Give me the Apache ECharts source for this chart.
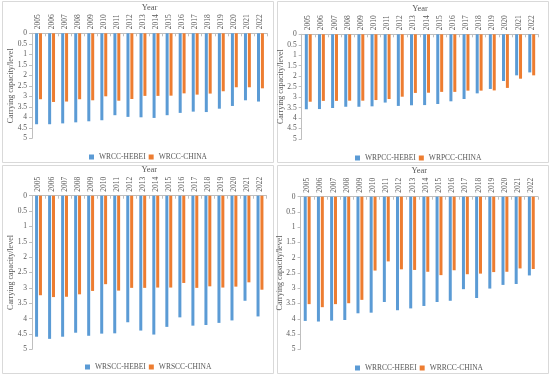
<!DOCTYPE html>
<html><head><meta charset="utf-8">
<script src="https://cdn.jsdelivr.net/npm/echarts@6/dist/echarts.min.js"></script>
<style>html,body{margin:0;padding:0;background:#fff}#c{width:550px;height:378px}</style>
</head><body><div id="c"></div>
<script>
var years = ['2005','2006','2007','2008','2009','2010','2011','2012','2013','2014','2015','2016','2017','2018','2019','2020','2021','2022'];
var yTicks = [0,0.5,1,1.5,2,2.5,3,3.5,4,4.5,5];
var wrccHebei = [4.33,4.33,4.29,4.24,4.19,4.14,3.90,3.98,4.00,4.03,3.90,3.79,3.73,3.75,3.59,3.46,3.19,3.25];
var wrccChina = [3.14,3.27,3.25,3.14,3.19,3.00,3.21,3.13,2.98,2.98,2.97,2.86,2.92,2.87,2.76,2.57,2.57,2.62];
var wrpccHebei = [3.58,3.57,3.52,3.46,3.46,3.44,3.26,3.42,3.39,3.38,3.33,3.20,3.09,2.82,2.61,2.23,1.96,1.82];
var wrpccChina = [3.22,3.18,3.18,3.17,3.17,3.14,3.09,2.98,2.80,2.79,2.75,2.75,2.69,2.69,2.68,2.56,2.12,1.96];
var wrsccHebei = [4.59,4.66,4.59,4.46,4.56,4.49,4.48,4.12,4.39,4.52,4.27,3.96,4.23,4.21,4.14,4.06,3.42,3.93];
var wrsccChina = [3.24,3.30,3.29,3.21,3.10,2.88,3.09,3.00,3.00,2.99,2.99,2.84,3.00,2.95,2.99,2.96,2.82,3.06];
var wrrccHebei = [4.07,4.09,4.06,4.04,3.82,3.80,3.45,3.72,3.66,3.58,3.45,3.41,3.03,3.32,3.01,2.89,2.86,2.58];
var wrrccChina = [3.52,3.62,3.52,3.49,3.38,2.42,2.12,2.38,2.40,2.46,2.57,2.41,2.54,2.52,2.47,2.46,2.35,2.37];
var panelNames = [['WRCC-HEBEI','WRCC-CHINA'],['WRPCC-HEBEI','WRPCC-CHINA'],['WRSCC-HEBEI','WRSCC-CHINA'],['WRRCC-HEBEI','WRRCC-CHINA']];
var panelData = [[wrccHebei,wrccChina],[wrpccHebei,wrpccChina],[wrsccHebei,wrsccChina],[wrrccHebei,wrrccChina]];

var FONT = 'Liberation Serif';
var TXT = '#595959';
var AX = '#bfbfbf';
var BLUE = '#5B9BD5', ORANGE = '#ED7D31';

var grids = [
  {left:32, top:33.3, width:235, height:105},
  {left:301.7, top:34.3, width:236.6, height:104.7},
  {left:32, top:195.7, width:234.5, height:153.6},
  {left:300.6, top:196.7, width:237.3, height:152.6}
];
var legendPos = [{left:84, top:148},{left:350, top:149},{left:80, top:358},{left:350, top:359}];
var boxes = [[2,1,271,161],[277,1,271,161],[2,165,271,208],[277,165,271,208]];

var xAxes = [], yAxes = [], series = [], legends = [], graphics = [];
for (var i = 0; i < 4; i++) {
  xAxes.push({
    type:'category', gridIndex:i, data:years, position:'top',
    name:'Year', nameLocation:'middle', nameGap:21, nameMoveOverlap:false,
    nameTextStyle:{fontFamily:FONT, fontSize:8.5, color:TXT},
    axisLine:{lineStyle:{color:AX, width:1}},
    axisTick:{show:true, inside:true, length:3, lineStyle:{color:AX}},
    axisLabel:{rotate:90, interval:0, margin:4, fontFamily:FONT, fontSize:7.5, color:TXT}
  });
  yAxes.push({
    type:'value', gridIndex:i, inverse:true, min:0, max:5, interval:0.5,
    name:'Carrying capacity/level', nameLocation:'middle', nameGap:17, nameRotate:90, nameMoveOverlap:false,
    nameTextStyle:{fontFamily:FONT, fontSize:8, color:TXT},
    axisLine:{show:true, lineStyle:{color:AX, width:1}},
    axisTick:{show:true, length:3, lineStyle:{color:AX}},
    splitLine:{show:false},
    axisLabel:{margin:5, fontFamily:FONT, fontSize:7.5, color:TXT}
  });
  for (var s = 0; s < 2; s++) {
    series.push({
      type:'bar', name:panelNames[i][s], xAxisIndex:i, yAxisIndex:i,
      data:panelData[i][s], barWidth:3, barGap:'30%',
      itemStyle:{color: s===0 ? BLUE : ORANGE},
      animation:false
    });
  }
  legends.push({
    data:panelNames[i], left:legendPos[i].left, top:legendPos[i].top,
    icon:'rect', itemWidth:5, itemHeight:5, itemGap:3,
    textStyle:{fontFamily:FONT, fontSize:7.5, color:TXT}
  });
  graphics.push({
    type:'rect', shape:{x:boxes[i][0]+0.5, y:boxes[i][1]+0.5, width:boxes[i][2], height:boxes[i][3]},
    style:{fill:'none', stroke:'#d9d9d9', lineWidth:1}, silent:true
  });
}

var chart = echarts.init(document.getElementById('c'), null, {renderer:'canvas'});
chart.setOption({
  animation:false,
  backgroundColor:'#fff',
  grid:grids, xAxis:xAxes, yAxis:yAxes, series:series, legend:legends,
  graphic:graphics
});
</script></body></html>
